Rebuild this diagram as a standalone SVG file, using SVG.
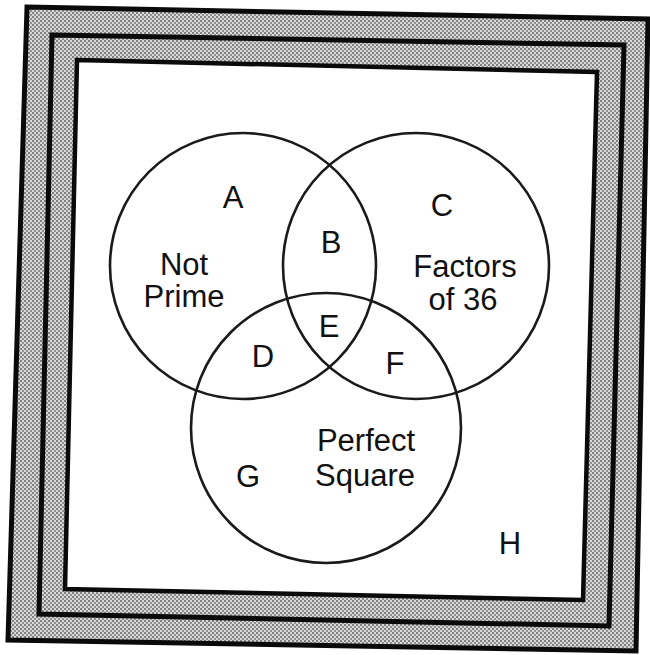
<svg xmlns="http://www.w3.org/2000/svg" width="650" height="655" viewBox="0 0 650 655">
  <defs>
    <pattern id="dots" width="4" height="4" patternUnits="userSpaceOnUse">
      <rect width="4" height="4" fill="#d8d8d8"/>
      <rect x="0" y="0" width="2" height="2" fill="#808080"/>
      <rect x="2" y="2" width="2" height="2" fill="#909090"/>
    </pattern>
    <style>
      .band { fill: url(#dots); stroke: #0a0a0a; stroke-width: 5; stroke-linejoin: miter; }
      .inner { fill: #ffffff; stroke: #0a0a0a; stroke-width: 4.5; }
      .set { fill: none; stroke: #1a1a1a; stroke-width: 2.6; }
      .lbl { font-family: "Liberation Sans", Arial, sans-serif; font-size: 31px; fill: #111; text-anchor: middle; }
    </style>
  </defs>
  <rect width="650" height="655" fill="#ffffff"/>
  <g id="frame">
    <polygon class="band" points="27,7 648,19 636,651 8,640"/>
    <polygon class="band" points="52,35 624,45 609,626 39,614"/>
    <polygon class="inner" points="77,60 597,72 583,600 65,589"/>
  </g>
  <g id="connectors"/>
  <g id="not-prime">
    <circle class="set" cx="243" cy="266" r="133"/>
    <text class="lbl" x="184" y="275">Not</text>
    <text class="lbl" x="184" y="307">Prime</text>
  </g>
  <g id="factors-of-36">
    <circle class="set" cx="416" cy="266" r="133"/>
    <text class="lbl" x="465" y="277">Factors</text>
    <text class="lbl" x="463" y="310">of 36</text>
  </g>
  <g id="perfect-square">
    <circle class="set" cx="326" cy="428" r="135"/>
    <text class="lbl" x="366" y="451">Perfect</text>
    <text class="lbl" x="365" y="486">Square</text>
  </g>
  <g id="region-A"><text class="lbl" x="233" y="208">A</text></g>
  <g id="region-B"><text class="lbl" x="331" y="253">B</text></g>
  <g id="region-C"><text class="lbl" x="442" y="216">C</text></g>
  <g id="region-D"><text class="lbl" x="263" y="367">D</text></g>
  <g id="region-E"><text class="lbl" x="329" y="337">E</text></g>
  <g id="region-F"><text class="lbl" x="395" y="374">F</text></g>
  <g id="region-G"><text class="lbl" x="248" y="487">G</text></g>
  <g id="region-H"><text class="lbl" x="510" y="554">H</text></g>
</svg>
